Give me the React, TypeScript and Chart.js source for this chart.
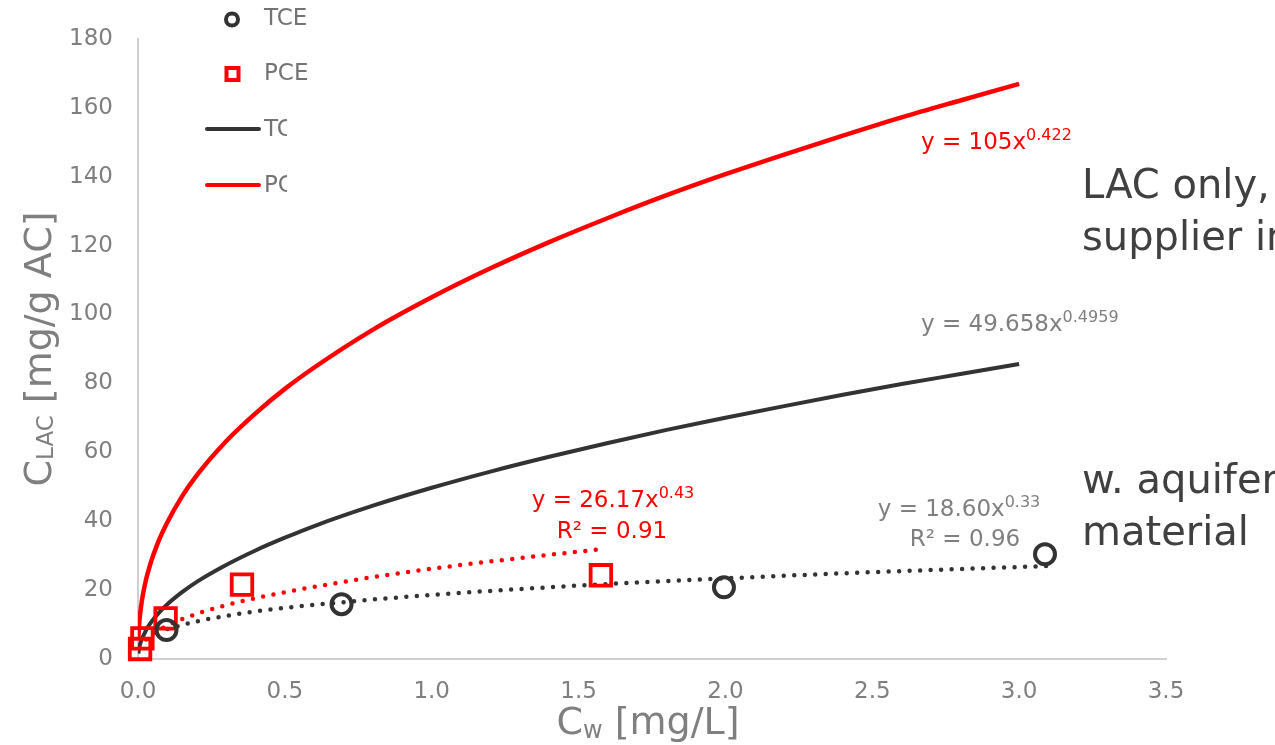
import { useEffect, useRef } from 'react';
import { Chart, registerables } from 'chart.js';

Chart.register(...registerables);

const FONT = '"DejaVu Sans", Verdana, sans-serif';

// Axis ticks
const xTickLabels = ['0.0', '0.5', '1.0', '1.5', '2.0', '2.5', '3.0', '3.5'];
const yTickLabels = ['0', '20', '40', '60', '80', '100', '120', '140', '160', '180'];

// Measured points
const tceX = [0.097, 0.693, 1.995, 3.088];
const tceY = [8.4, 15.9, 20.8, 30.4];
const pceX = [0.007, 0.015, 0.094, 0.354, 1.576];
const pceY = [2.9, 6.0, 11.8, 21.6, 24.3];

// Fitted isotherm curves (LAC only)
const curveX = [0.001, 0.005, 0.01, 0.02, 0.04, 0.07, 0.1, 0.15, 0.2, 0.3, 0.4, 0.5, 0.6, 0.8, 1.0, 1.2, 1.4, 1.6, 1.8, 2.0, 2.2, 2.4, 2.6, 2.8, 3.0];
const tceCurveY = [1.6, 3.6, 5.1, 7.1, 10.1, 13.3, 15.9, 19.4, 22.4, 27.3, 31.5, 35.2, 38.6, 44.5, 49.7, 54.4, 58.7, 62.7, 66.5, 70.0, 73.4, 76.7, 79.8, 82.7, 85.6];
const pceCurveY = [5.7, 11.2, 15.0, 20.2, 27.0, 34.2, 39.7, 47.2, 53.3, 63.2, 71.3, 78.4, 84.6, 95.6, 105.0, 113.4, 121.0, 128.0, 134.6, 140.7, 146.4, 151.9, 157.2, 162.1, 166.9];

// Trendlines (with aquifer material)
const tceTrendX = [0.1, 0.2, 0.4, 0.7, 1.0, 1.5, 2.0, 2.5, 3.1];
const tceTrendY = [8.7, 10.9, 13.8, 16.5, 18.6, 21.3, 23.4, 25.2, 27.0];
const pceTrendX = [0.007, 0.02, 0.05, 0.1, 0.2, 0.35, 0.5, 0.75, 1.0, 1.25, 1.58];
const pceTrendY = [3.1, 4.9, 7.2, 9.7, 13.1, 16.7, 19.4, 23.1, 26.2, 28.8, 31.9];

const legendLabels = ['TCE', 'PCE', 'TCE', 'PCE'];

const toPts = (xs: number[], ys: number[]) => xs.map((x, i) => ({ x, y: ys[i] }));

type Part = { t: string; size: number; dy?: number };

function richWidth(ctx: CanvasRenderingContext2D, parts: Part[]) {
  let w = 0;
  for (const p of parts) {
    ctx.font = `${p.size}px ${FONT}`;
    w += ctx.measureText(p.t).width;
  }
  return w;
}

function drawRich(ctx: CanvasRenderingContext2D, x: number, y: number, parts: Part[], color: string, align: 'left' | 'center' | 'right' = 'left') {
  const w = richWidth(ctx, parts);
  let cx = align === 'left' ? x : align === 'center' ? x - w / 2 : x - w;
  ctx.fillStyle = color;
  ctx.textAlign = 'left';
  ctx.textBaseline = 'alphabetic';
  for (const p of parts) {
    ctx.font = `${p.size}px ${FONT}`;
    ctx.fillText(p.t, cx, y + (p.dy || 0));
    cx += ctx.measureText(p.t).width;
  }
}

const annotations = {
  id: 'annotations',
  afterDraw(chart: any) {
    const ctx: CanvasRenderingContext2D = chart.ctx;
    ctx.save();
    const red = '#ff0000';
    const gray = '#7f7f7f';

    // Equations
    drawRich(ctx, 921, 149, [{ t: 'y = 105x', size: 23 }, { t: '0.422', size: 16, dy: -9 }], red);
    drawRich(ctx, 921, 331, [{ t: 'y = 49.658x', size: 23 }, { t: '0.4959', size: 16, dy: -9 }], gray);
    drawRich(ctx, 613, 507, [{ t: 'y = 26.17x', size: 23 }, { t: '0.43', size: 16, dy: -9 }], red, 'center');
    drawRich(ctx, 612, 538, [{ t: 'R² = 0.91', size: 23 }], red, 'center');
    drawRich(ctx, 959, 516, [{ t: 'y = 18.60x', size: 23 }, { t: '0.33', size: 16, dy: -9 }], gray, 'center');
    drawRich(ctx, 965, 546, [{ t: 'R² = 0.96', size: 23 }], gray, 'center');

    // Big annotations
    const dark = '#404040';
    drawRich(ctx, 1082, 198, [{ t: 'LAC only,', size: 40 }], dark);
    drawRich(ctx, 1082, 250, [{ t: 'supplier info', size: 40 }], dark);
    drawRich(ctx, 1082, 493, [{ t: 'w. aquifer', size: 40 }], dark);
    drawRich(ctx, 1082, 545, [{ t: 'material', size: 40 }], dark);

    // Axis titles
    const xt: Part[] = [{ t: 'C', size: 38 }, { t: 'w', size: 24, dy: 4 }, { t: ' [mg/L]', size: 38 }];
    drawRich(ctx, 648, 734, xt, gray, 'center');
    ctx.save();
    ctx.translate(51, 349);
    ctx.rotate(-Math.PI / 2);
    const yt: Part[] = [{ t: 'C', size: 38 }, { t: 'LAC', size: 23, dy: 2 }, { t: ' [mg/g AC]', size: 38 }];
    drawRich(ctx, 0, 0, yt, gray, 'center');
    ctx.restore();

    // Legend
    const lg = '#737373';
    ctx.lineWidth = 4;
    ctx.strokeStyle = '#333333';
    ctx.beginPath();
    ctx.arc(232, 19.5, 6, 0, Math.PI * 2);
    ctx.stroke();
    ctx.strokeStyle = red;
    ctx.strokeRect(226.5, 68, 12, 12);
    ctx.lineCap = 'round';
    ctx.beginPath();
    ctx.strokeStyle = '#333333';
    ctx.moveTo(207, 129);
    ctx.lineTo(259, 129);
    ctx.stroke();
    ctx.beginPath();
    ctx.strokeStyle = red;
    ctx.moveTo(207, 185);
    ctx.lineTo(259, 185);
    ctx.stroke();
    ctx.font = `23px ${FONT}`;
    ctx.fillStyle = lg;
    ctx.textBaseline = 'middle';
    ctx.textAlign = 'left';
    ctx.fillText(legendLabels[0], 264, 19);
    ctx.fillText(legendLabels[1], 264, 74);
    ctx.save();
    ctx.beginPath();
    ctx.rect(260, 100, 27, 110);
    ctx.clip();
    ctx.fillText(legendLabels[2], 264, 130);
    ctx.fillText(legendLabels[3], 264, 186);
    ctx.restore();

    ctx.restore();
  },
};

export default function App() {
  const ref = useRef<HTMLCanvasElement>(null);
  useEffect(() => {
    if (!ref.current) return;
    const chart = new Chart(ref.current, {
      type: 'scatter',
      data: {
        datasets: [
          {
            label: 'TCE',
            data: toPts(tceX, tceY),
            showLine: false,
            pointStyle: 'circle',
            pointRadius: 10,
            pointBorderWidth: 4,
            pointBorderColor: '#333333',
            pointBackgroundColor: 'rgba(0,0,0,0)',
            clip: false,
            order: 0,
          } as any,
          {
            label: 'PCE',
            data: toPts(pceX, pceY),
            showLine: false,
            pointStyle: 'rect',
            pointRadius: 14.5,
            pointBorderWidth: 3.8,
            pointBorderColor: '#ff0000',
            pointBackgroundColor: 'rgba(0,0,0,0)',
            clip: false,
            order: 0,
          } as any,
          {
            label: 'TCE trend',
            data: toPts(tceTrendX, tceTrendY),
            showLine: true,
            pointRadius: 0,
            borderColor: '#333333',
            borderWidth: 4.5,
            borderDash: [0, 10.5],
            borderCapStyle: 'round',
            cubicInterpolationMode: 'monotone',
            order: 1,
          } as any,
          {
            label: 'PCE trend',
            data: toPts(pceTrendX, pceTrendY),
            showLine: true,
            pointRadius: 0,
            borderColor: '#ff0000',
            borderWidth: 4.5,
            borderDash: [0, 10.5],
            borderCapStyle: 'round',
            cubicInterpolationMode: 'monotone',
            order: 1,
          } as any,
          {
            label: 'TCE curve',
            data: toPts(curveX, tceCurveY),
            showLine: true,
            pointRadius: 0,
            borderColor: '#333333',
            borderWidth: 4,
            cubicInterpolationMode: 'monotone',
            order: 2,
          } as any,
          {
            label: 'PCE curve',
            data: toPts(curveX, pceCurveY),
            showLine: true,
            pointRadius: 0,
            borderColor: '#ff0000',
            borderWidth: 4.5,
            cubicInterpolationMode: 'monotone',
            order: 2,
          } as any,
        ],
      },
      options: {
        animation: false,
        responsive: true,
        maintainAspectRatio: false,
        layout: { padding: { left: 0, top: 37, right: 109, bottom: 0 } },
        plugins: {
          legend: { display: false },
          tooltip: { enabled: false },
        },
        scales: {
          x: {
            type: 'linear',
            min: 0,
            max: 3.5,
            afterFit: (s: any) => {
              s.height = 86;
            },
            afterBuildTicks: (s: any) => {
              s.ticks = xTickLabels.map((l) => ({ value: parseFloat(l) }));
            },
            ticks: {
              callback: (_v: any, i: number) => xTickLabels[i],
              color: '#7f7f7f',
              font: { family: FONT, size: 23 },
              padding: 19,
              maxRotation: 0,
            },
            grid: { display: true, color: 'rgba(0,0,0,0)', drawTicks: false },
            border: { display: true, color: '#d0d0d0', width: 2 },
          },
          y: {
            type: 'linear',
            min: 0,
            max: 180,
            afterFit: (s: any) => {
              s.width = 138;
            },
            afterBuildTicks: (s: any) => {
              s.ticks = yTickLabels.map((l) => ({ value: parseFloat(l) }));
            },
            ticks: {
              callback: (_v: any, i: number) => yTickLabels[i],
              color: '#7f7f7f',
              font: { family: FONT, size: 23 },
              padding: 25,
            },
            grid: { display: true, color: 'rgba(0,0,0,0)', drawTicks: false },
            border: { display: true, color: '#d0d0d0', width: 2 },
          },
        },
      } as any,
      plugins: [annotations],
    });
    return () => chart.destroy();
  }, []);

  return (
    <div style={{ position: 'absolute', left: 0, top: 0, width: 1275, height: 745, background: '#fff' }}>
      <canvas ref={ref} />
    </div>
  );
}
